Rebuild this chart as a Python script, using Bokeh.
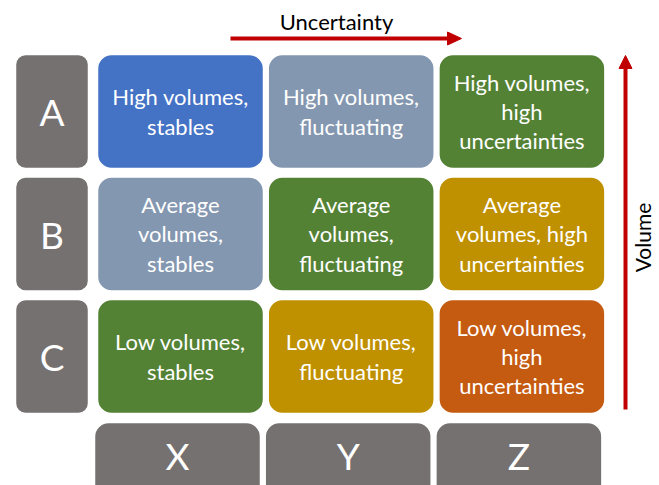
from bokeh.plotting import figure
from bokeh.models import Range1d, ColumnDataSource
from bokeh.core.properties import value
from bokeh.embed import file_html
from bokeh.resources import INLINE

rows = ["A", "B", "C"]
cols = ["X", "Y", "Z"]
cell_labels = [
    ["High volumes,\nstables", "High volumes,\nfluctuating", "High volumes,\nhigh\nuncertainties"],
    ["Average\nvolumes,\nstables", "Average\nvolumes,\nfluctuating", "Average\nvolumes, high\nuncertainties"],
    ["Low volumes,\nstables", "Low volumes,\nfluctuating", "Low volumes,\nhigh\nuncertainties"],
]
cell_colors = [
    ["#4472C4", "#8497B0", "#548235"],
    ["#8497B0", "#548235", "#BF9000"],
    ["#548235", "#BF9000", "#C55A11"],
]
x_axis_title = "Uncertainty"
y_axis_title = "Volume"

GRAY = "#767171"
RED = "#C00000"
FONT = "Lato"

W, H = 659, 485
p = figure(width=W, height=H, output_backend="svg", toolbar_location=None,
           x_range=Range1d(0, W), y_range=Range1d(H, 0),
           min_border=0)
p.axis.visible = False
p.grid.visible = False
p.outline_line_color = None
p.background_fill_color = "white"
p.border_fill_color = "white"

# layout (pixel-like data units)
col_x0, col_step, col_w = 180.0, 170.7, 166.0
row_y0, row_step, row_h = 111.0, 122.5, 114.0

cx, cy, txt, clr = [], [], [], []
for j, r in enumerate(rows):
    for i, c in enumerate(cols):
        cx.append(col_x0 + col_step * i)
        cy.append(row_y0 + row_step * j)
        txt.append(cell_labels[j][i])
        clr.append(cell_colors[j][i])
src = ColumnDataSource(dict(
    left=[x - col_w / 2 for x in cx], right=[x + col_w / 2 for x in cx],
    top=[y - row_h / 2 for y in cy], bottom=[y + row_h / 2 for y in cy],
    x=cx, y=cy, text=txt, color=clr))
p.quad(left="left", right="right", top="top", bottom="bottom", source=src,
       fill_color="color", line_color="white", line_width=1.5, border_radius=14)
p.text(x="x", y="y", text="text", source=src, text_color="white",
       text_font=value(FONT), text_font_size="22px", text_align="center",
       text_baseline="middle", text_line_height=1.09)

# row labels
rsrc = ColumnDataSource(dict(
    left=[15] * 3, right=[88] * 3,
    top=[row_y0 + row_step * j - row_h / 2 for j in range(3)],
    bottom=[row_y0 + row_step * j + row_h / 2 for j in range(3)],
    x=[51.5] * 3, y=[row_y0 + row_step * j for j in range(3)], text=rows))
p.quad(left="left", right="right", top="top", bottom="bottom", source=rsrc,
       fill_color=GRAY, line_color="white", line_width=1.5, border_radius=10)
p.text(x="x", y="y", text="text", source=rsrc, text_color="white",
       text_font=value(FONT), text_font_size="37px", text_align="center",
       text_baseline="middle")

# column labels
bx = [col_x0 - 3 + col_step * i for i in range(3)]
csrc = ColumnDataSource(dict(
    left=[x - col_w / 2 for x in bx], right=[x + col_w / 2 for x in bx],
    top=[422] * 3, bottom=[536] * 3,
    x=bx, y=[455] * 3, text=cols))
p.quad(left="left", right="right", top="top", bottom="bottom", source=csrc,
       fill_color=GRAY, line_color="white", line_width=1.5, border_radius=14)
p.text(x="x", y="y", text="text", source=csrc, text_color="white",
       text_font=value(FONT), text_font_size="37px", text_align="center",
       text_baseline="middle")

# top arrow
p.segment(x0=[230], y0=[38], x1=[449], y1=[38], line_color=RED, line_width=4)
p.patch(x=[447, 461, 447], y=[31.5, 38, 44.5], fill_color=RED, line_color=RED)
p.text(x=[336], y=[21], text=[x_axis_title], text_font=value(FONT),
       text_font_size="22px", text_align="center", text_baseline="middle",
       text_color="black")

# right arrow
p.segment(x0=[625], y0=[409], x1=[625], y1=[66], line_color=RED, line_width=4)
p.patch(x=[618.5, 625, 631.5], y=[68, 55, 68], fill_color=RED, line_color=RED)
p.text(x=[642], y=[237], text=[y_axis_title], text_font=value(FONT),
       text_font_size="21px", text_align="center", text_baseline="middle",
       text_color="black", angle=1.5708)

open("out.html", "w").write(file_html(p, INLINE))
